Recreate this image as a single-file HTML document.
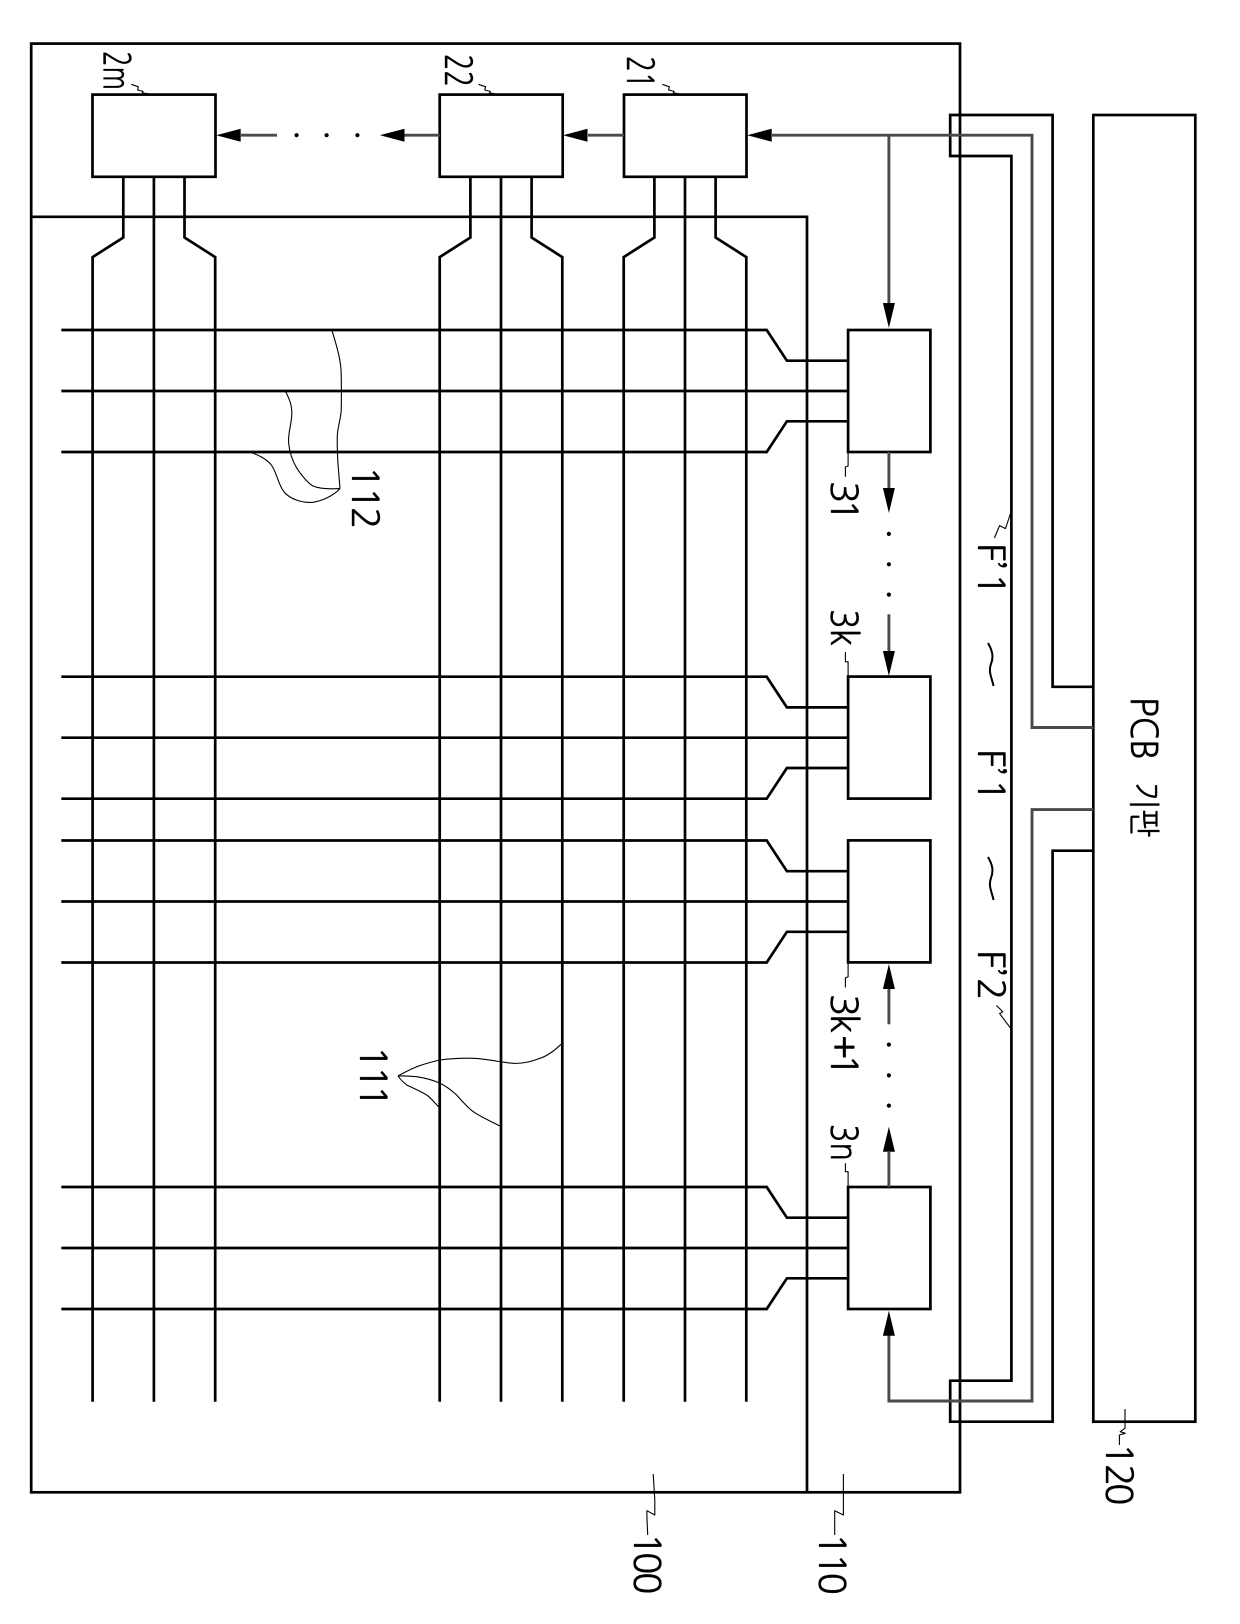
<!DOCTYPE html>
<html lang="ko">
<head>
<meta charset="utf-8">
<title>Diagram</title>
<style>
html,body{margin:0;padding:0;background:#fff}
svg{display:block}
text{font-family:"NanumGothic","Liberation Sans",sans-serif;font-size:37px;fill:#000;stroke:#000;stroke-width:.35}
.k{fill:none;stroke:#000;stroke-width:2.7;stroke-linejoin:miter}
.g{fill:none;stroke:#4a4a4a;stroke-width:2.9;stroke-linejoin:miter}
.t{fill:none;stroke:#000;stroke-width:1.1;stroke-linejoin:round}
.b{fill:#fff;stroke:#000;stroke-width:2.7}
</style>
</head>
<body>
<svg width="1240" height="1624" viewBox="0 0 1240 1624" xmlns="http://www.w3.org/2000/svg">
<defs>
<g id="col">
<path class="k" d="M0 176.8V1401.7"/>
<path class="k" d="M-30.6 176.8V237.5L-61.3 257.1V1401.7"/>
<path class="k" d="M30.6 176.8V237.5L61.3 257.1V1401.7"/>
</g>
<g id="row">
<path class="k" d="M61.3 0H848.1"/>
<path class="k" d="M61.3 -61H766.7L786.9 -30.3H848.1"/>
<path class="k" d="M61.3 61H766.7L786.9 30.3H848.1"/>
</g>
<polygon id="al" points="0,0 24.5,-6.5 24.5,6.5" fill="#000"/>
<polygon id="ad" points="0,0 -6,-25 6,-25" fill="#000"/>
<polygon id="au" points="0,0 -6,25 6,25" fill="#000"/>
</defs>

<!-- panel -->
<rect class="k" x="31.2" y="43.6" width="928.8" height="1448.7"/>
<path class="k" d="M31.2 216.8H807V1492.3"/>

<!-- data/gate lines -->
<use href="#col" x="153.9"/>
<use href="#col" x="501"/>
<use href="#col" x="685"/>
<use href="#row" y="391"/>
<use href="#row" y="737.7"/>
<use href="#row" y="901.5"/>
<use href="#row" y="1248"/>

<!-- driver boxes -->
<rect class="b" x="92.5" y="94.6" width="123" height="82.2"/>
<rect class="b" x="439.7" y="94.6" width="123" height="82.2"/>
<rect class="b" x="624" y="94.6" width="122.5" height="82.2"/>
<rect class="b" x="848.1" y="330" width="82.3" height="122"/>
<rect class="b" x="848.1" y="676.6" width="82.3" height="122"/>
<rect class="b" x="848.1" y="840.4" width="82.3" height="122"/>
<rect class="b" x="848.1" y="1187" width="82.3" height="122"/>

<!-- FPC -->
<path class="k" d="M1093.3 686.8H1052.6V115H950.2V156H1011.4V1380.7H950.2V1421.7H1052.6V850.7H1093.3"/>
<rect class="k" x="1093.3" y="115" width="102" height="1306.7"/>

<!-- signal lines -->
<path class="g" d="M1093.3 727.5H1032V135.2H772"/>
<path class="g" d="M1093.3 809.6H1032V1401H888.9V1335"/>
<path class="g" d="M888.9 135.2V304"/>
<path class="g" d="M624 135.2H588"/>
<path class="g" d="M439.7 135.2H404"/>
<path class="g" d="M277 135.2H241"/>
<path class="g" d="M888.9 452V488"/>
<path class="g" d="M888.9 614.3V651"/>
<path class="g" d="M888.9 988V1024.3"/>
<path class="g" d="M888.9 1152V1187"/>

<!-- arrowheads -->
<use href="#al" x="747.2" y="135.2"/>
<use href="#al" x="563" y="135.2"/>
<use href="#al" x="380" y="135.2"/>
<use href="#al" x="216.2" y="135.2"/>
<use href="#ad" x="888.9" y="328"/>
<use href="#ad" x="888.9" y="513"/>
<use href="#ad" x="888.9" y="676"/>
<use href="#au" x="888.9" y="964"/>
<use href="#au" x="888.9" y="1126.7"/>
<use href="#au" x="888.9" y="1310.7"/>

<!-- dots -->
<g fill="#000">
<circle cx="296.6" cy="135.2" r="2.1"/><circle cx="326.6" cy="135.2" r="2.1"/><circle cx="357.4" cy="135.2" r="2.1"/>
<circle cx="888.9" cy="533.9" r="2.1"/><circle cx="888.9" cy="564.3" r="2.1"/><circle cx="888.9" cy="594.6" r="2.1"/>
<circle cx="888.9" cy="1044.6" r="2.1"/><circle cx="888.9" cy="1075.4" r="2.1"/><circle cx="888.9" cy="1105.6" r="2.1"/>
</g>

<!-- leaders -->
<polyline class="t" points="131.3,84.3 138.4,86.8 137.6,90 143.1,91.4 142.3,92.9 151,94.3"/>
<polyline class="t" points="478.5,84.3 485.6,86.8 484.8,90 490.3,91.4 489.5,92.9 498.2,94.3"/>
<polyline class="t" points="662.3,84.3 669.4,86.8 668.6,90 674.1,91.4 673.3,92.9 682,94.3"/>
<polyline class="t" points="848.1,452 848.1,466 845.4,467 845.4,476.8"/>
<polyline class="t" points="848.1,676 848.1,661.8 845.4,661.8 845.4,652"/>
<polyline class="t" points="848.1,962.5 848.1,976.7 845.4,978 845.4,987.5"/>
<polyline class="t" points="848.1,1186.7 848.1,1171.7 845.4,1171.7 845.4,1163.3"/>
<polyline class="t" points="1010.3,514 1005.5,528.6 999.6,525.6 994.4,538"/>
<polyline class="t" points="1010.3,1027.8 999.6,1013.6 1002.7,1011.8 996.4,1005.4"/>
<polyline class="t" points="1125,1409 1125,1428.3 1120.2,1431.7 1125.3,1433.3 1119.4,1435 1119.4,1445"/>
<polyline class="t" points="653.2,1474 654.8,1500 654.8,1515 646.9,1510.7 646.9,1516.7 647.7,1535"/>
<polyline class="t" points="843.4,1474 843.4,1515 834.7,1510.7 834.7,1516.7 834.7,1535"/>

<!-- 112 curves -->
<path class="t" d="M332 330.7C338 350 341.2 362 341.2 375C341.5 390 341.5 400 341.2 410.7C340.5 420 337.5 428 337.3 435.7C337 448 337.5 456 338 464L340 488.6"/>
<path class="t" d="M285.5 391.4C290 400 292 406 291.8 414C291.5 425 288 432 288.6 442.8C289.5 452 292 460 296.6 467.8C302 476 307 482 312.4 485.7C320 489 330 489 340 488.6"/>
<path class="t" d="M249.9 452C258 455 265 458 270.8 464.3C277 472 278 485 284.7 492.8C291 499 301 503 312.4 502.4C322 501 333 496 340 488.6"/>

<!-- 111 curves -->
<path class="t" d="M561 1044.3C553 1052 547 1056 540 1058.3C531 1062 522 1063.8 513.3 1063.3C508 1063 504 1062.3 500 1061.7C490 1060 482 1058.5 473.3 1058.3C461 1058 451 1058.5 440 1060C431 1062 424 1064 416.7 1066.7C409 1070 403 1073 398 1076"/>
<path class="t" d="M500 1126C490 1121 481 1117 473.3 1111.7C467 1107 462 1101 456.7 1095C451 1090 446 1086 440 1083.3C433 1080 425 1078 416.7 1076.7C410 1076 404 1075.8 398 1076"/>
<path class="t" d="M439 1107.3C434 1102 431 1098 426.7 1095C420 1091 413 1088 406.7 1085C403 1082 400 1079 398 1076"/>

<!-- labels -->
<text transform="translate(103.5,51) rotate(90)" textLength="39" lengthAdjust="spacingAndGlyphs">2m</text>
<text transform="translate(445,54) rotate(90)" textLength="33" lengthAdjust="spacingAndGlyphs">22</text>
<text transform="translate(627,56) rotate(90)" textLength="32" lengthAdjust="spacingAndGlyphs">21</text>
<text transform="translate(352,466) rotate(90)" x="0 21 41">112</text>
<text transform="translate(360,1046) rotate(90)" x="0 20 39">111</text>
<text transform="translate(831,481) rotate(90)" x="0 18">31</text>
<text transform="translate(831,609) rotate(90)" textLength="37" lengthAdjust="spacingAndGlyphs">3k</text>
<text transform="translate(831,994) rotate(90)" x="0 20 41 60">3k+1</text>
<text transform="translate(831,1124) rotate(90)" textLength="37" lengthAdjust="spacingAndGlyphs">3n</text>
<text transform="translate(978,543) rotate(90)" x="0 19 30">F’1</text>
<text transform="translate(978,749) rotate(90)" x="0 19 30">F’1</text>
<text transform="translate(978,950) rotate(90)" x="0 19 28">F’2</text>
<path class="k" style="stroke-width:2" d="M988 643C992 650 994 656 991 664C988 672 992 678 993.5 686"/>
<path class="k" style="stroke-width:2" d="M988 857C992 864 994 870 991 878C988 886 992 892 993.5 900"/>
<text transform="translate(1131,697) rotate(90)" textLength="63" lengthAdjust="spacingAndGlyphs">PCB</text>
<text transform="translate(1133,782) rotate(90)" textLength="55" lengthAdjust="spacingAndGlyphs" style="font-size:32px">기판</text>
<text transform="translate(1106,1443) rotate(90)" x="0 21 40">120</text>
<text transform="translate(634,1533) rotate(90)" x="0 19 39">100</text>
<text transform="translate(819,1533) rotate(90)" x="0 20 39.5">110</text>
</svg>
</body>
</html>
